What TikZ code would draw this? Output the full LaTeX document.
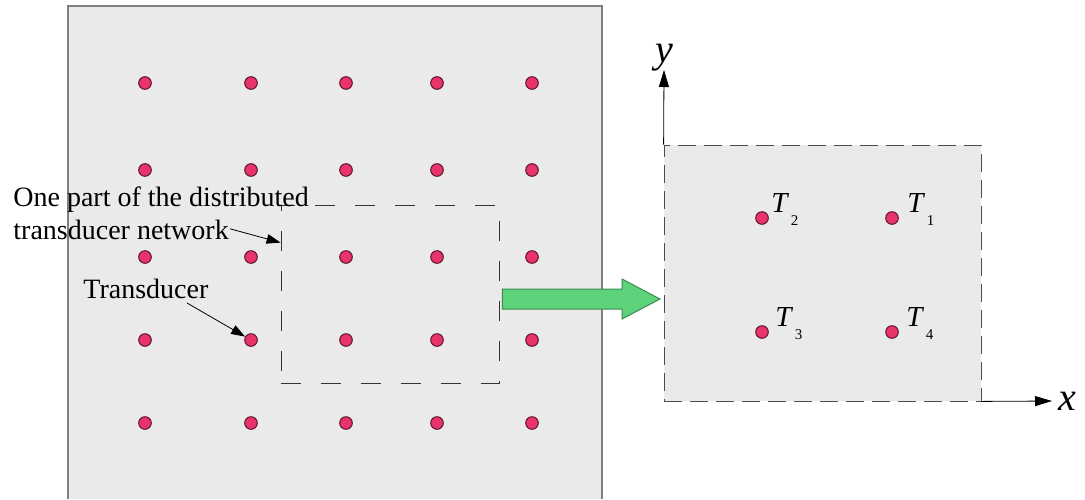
\documentclass[tikz,border=0pt]{standalone}
\usepackage{fontspec}
\setmainfont{Liberation Serif}
\usetikzlibrary{positioning, calc, arrows.meta}

\definecolor{panelgray}{HTML}{EAEAEA}
\definecolor{dotpink}{HTML}{E8336B}
\definecolor{dotrim}{HTML}{5E1530}
\definecolor{arrowgreen}{HTML}{5CD27A}
\definecolor{arrowrim}{HTML}{3C8A52}

\newcommand{\tsub}[1]{\textit{T}\kern0.8pt\raisebox{-6.5pt}{\fontsize{7.5}{8}\selectfont #1}}

\begin{document}
\begin{tikzpicture}[x=0.5pt, y=-0.5pt,
    sensor/.style={circle, draw=dotrim, fill=dotpink, line width=0.5pt, minimum size=6.3pt, inner sep=0pt},
    callout/.style={-{Triangle[length=7pt, width=4.8pt]}, line width=0.4pt},
    axis/.style={-{Triangle[length=8.5pt, width=5pt]}, line width=0.4pt},
    lbl/.style={font=\fontsize{14}{16.5}\selectfont, inner sep=0pt},
    tlab/.style={font=\fontsize{14.5}{16}\selectfont, inner sep=0pt, anchor=base west},
    axlab/.style={font=\fontsize{20}{20}\selectfont\itshape, inner sep=0pt}]

      \useasboundingbox (0,0) rectangle (1085,499);

      % Whole network
      \fill[panelgray] (68,6) rectangle (602,499);
      \draw[black!50, line width=0.9pt] (68,499) -- (68,6) -- (602,6) -- (602,499);

      % Transducers
      \foreach \x [count=\i] in {145,251,346,437,532}
        \foreach \y [count=\j] in {83,170,257,340,423}
          \node[sensor] (s\i\j) at (\x,\y) {};

      % One part of the network
      \node[draw=black!80, dash pattern=on 10pt off 10pt, minimum width=109pt, minimum height=89pt, inner sep=0pt] (win) at (390,294) {};

      % Labels
      \node[lbl, align=left, anchor=north west] (plabel) at (13,186) {One part of the distributed\\transducer network};
      \node[lbl, anchor=base west] (tlabel) at (83,298) {Transducer};

      % Callouts
      \draw[callout] ($(plabel.south west)+(217,-11)$) -- ($(win.north west)+(0,38)$);
      \draw[callout] ($(tlabel.base west)+(104,5)$) -- (s24);

      % Green arrow
      \coordinate (tail) at ($(win.east)+(3,5)$);
      \coordinate (head) at ($(win.east -| 660,0)+(0,5)$);
      \draw[draw=arrowrim, fill=arrowgreen, line width=0.5pt]
        ($(tail)+(0,-10)$) -- ($(head)+(-38,-10)$) -- ($(head)+(-38,-20)$) -- (head)
        -- ($(head)+(-38,20)$) -- ($(head)+(-38,10)$) -- ($(tail)+(0,10)$) -- cycle;

      % Zoomed part
      \node[draw=black!70, fill=panelgray, dash pattern=on 9pt off 4pt, minimum width=158.5pt, minimum height=128pt, inner sep=0pt] (part) at (822.5,273) {};
      \node[sensor] (t1) at (892,218) {};
      \node[sensor] (t2) at (762,218) {};
      \node[sensor] (t3) at (762,332) {};
      \node[sensor] (t4) at (892,332) {};
      \node[tlab] (l1) at ($(t1)+(15,-6)$) {\tsub{1}};
      \node[tlab] (l2) at ($(t2)+(9,-6)$) {\tsub{2}};
      \node[tlab] (l3) at ($(t3)+(13,-6)$) {\tsub{3}};
      \node[tlab] (l4) at ($(t4)+(14,-6)$) {\tsub{4}};

      % Axes
      \coordinate (ytip) at (664,70);
      \coordinate (xtip) at (1052,401);
      \draw[axis] (part.north west) -- (ytip);
      \draw[axis] (part.south east) -- (xtip);
      \node[axlab, above=-1pt of ytip] (ylab) {y};
      \node[axlab, right=3pt of xtip] (xlab) {x};
    \end{tikzpicture}
\end{document}
